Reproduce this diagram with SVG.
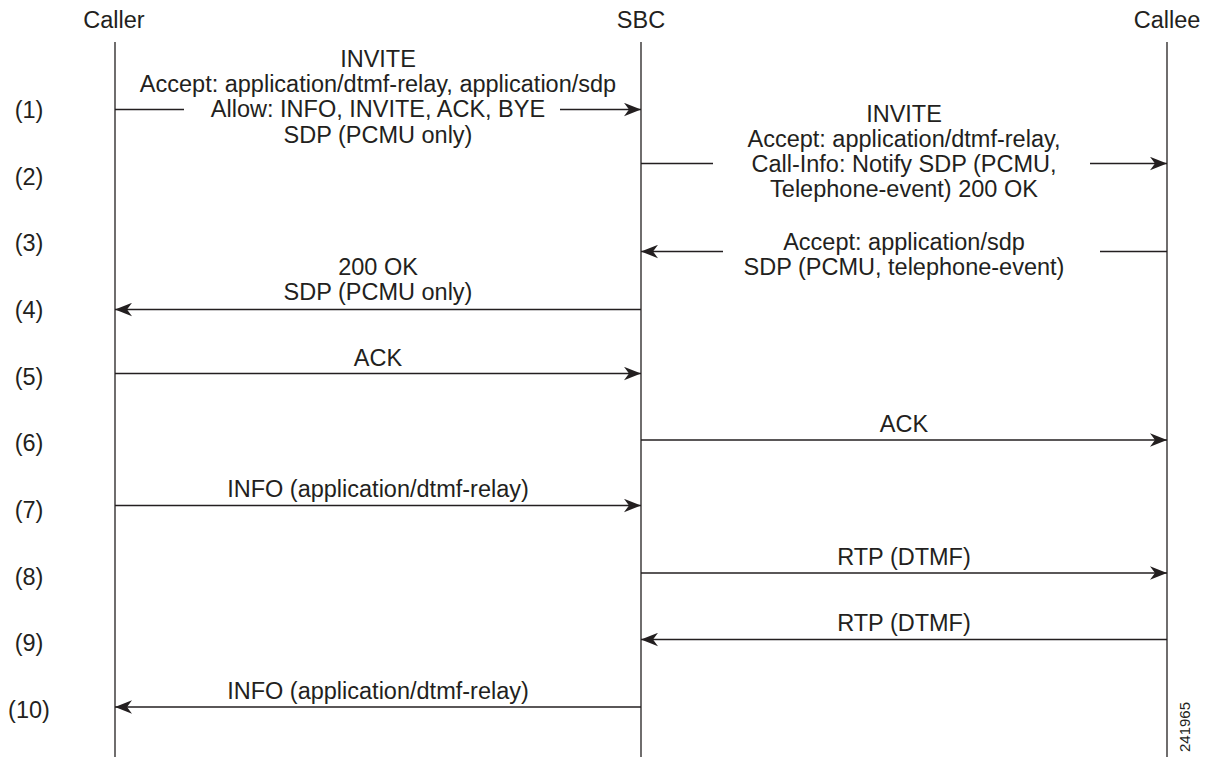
<svg xmlns="http://www.w3.org/2000/svg" width="1215" height="757" viewBox="0 0 1215 757">
<style>
text{font-family:"Liberation Sans",Arial,sans-serif;font-size:23.5px;fill:#231f20;text-anchor:middle}
.life{stroke:#231f20;stroke-width:1.3;fill:none}
.msg{stroke:#231f20;stroke-width:1.3;fill:none}
.fig{font-size:15px}
</style>
<defs>
<marker id="ah" markerUnits="userSpaceOnUse" viewBox="0 0 17 14" refX="17" refY="7" markerWidth="17" markerHeight="14" orient="auto">
<path d="M0,0.3 L17,7 L0,13.7 L5,7 Z" fill="#231f20"/>
</marker>
</defs>
<rect width="1215" height="757" fill="#fff"/>
<g id="caller">
<text x="114" y="28">Caller</text>
<line class="life" x1="115" y1="42" x2="115" y2="757"/>
</g>
<g id="sbc">
<text x="641" y="28">SBC</text>
<line class="life" x1="641" y1="42" x2="641" y2="757"/>
</g>
<g id="callee">
<text x="1167" y="28">Callee</text>
<line class="life" x1="1167" y1="42" x2="1167" y2="757"/>
</g>
<g id="steps">
<text x="29" y="118">(1)</text>
<text x="29" y="185">(2)</text>
<text x="29" y="251">(3)</text>
<text x="29" y="318">(4)</text>
<text x="29" y="385">(5)</text>
<text x="29" y="451">(6)</text>
<text x="29" y="518">(7)</text>
<text x="29" y="585">(8)</text>
<text x="29" y="651">(9)</text>
<text x="29" y="718">(10)</text>
</g>
<g id="connectors">
<path class="msg" d="M115,109.5 H184"/>
<path class="msg" d="M560,109.5 H641" marker-end="url(#ah)"/>
<path class="msg" d="M641,163.5 H713"/>
<path class="msg" d="M1090,163.5 H1167" marker-end="url(#ah)"/>
<path class="msg" d="M1167,251.5 H1100"/>
<path class="msg" d="M723,251.5 H641" marker-end="url(#ah)"/>
<path class="msg" d="M641,309.5 H115" marker-end="url(#ah)"/>
<path class="msg" d="M115,373.5 H641" marker-end="url(#ah)"/>
<path class="msg" d="M641,440 H1167" marker-end="url(#ah)"/>
<path class="msg" d="M115,505.5 H641" marker-end="url(#ah)"/>
<path class="msg" d="M641,573 H1167" marker-end="url(#ah)"/>
<path class="msg" d="M1167,639.5 H641" marker-end="url(#ah)"/>
<path class="msg" d="M641,707 H115" marker-end="url(#ah)"/>
</g>
<g id="labels">
<text x="378" y="67">INVITE</text>
<text x="378" y="92">Accept: application/dtmf-relay, application/sdp</text>
<text x="378" y="117">Allow: INFO, INVITE, ACK, BYE</text>
<text x="378" y="143">SDP (PCMU only)</text>
<text x="904" y="122">INVITE</text>
<text x="904" y="147">Accept: application/dtmf-relay,</text>
<text x="904" y="172">Call-Info: Notify SDP (PCMU,</text>
<text x="904" y="197">Telephone-event) 200 OK</text>
<text x="904" y="250">Accept: application/sdp</text>
<text x="904" y="275">SDP (PCMU, telephone-event)</text>
<text x="378" y="275">200 OK</text>
<text x="378" y="300">SDP (PCMU only)</text>
<text x="378" y="366">ACK</text>
<text x="904" y="432">ACK</text>
<text x="378" y="497">INFO (application/dtmf-relay)</text>
<text x="904" y="565">RTP (DTMF)</text>
<text x="904" y="631">RTP (DTMF)</text>
<text x="378" y="699">INFO (application/dtmf-relay)</text>
</g>
<text class="fig" transform="translate(1190,727) rotate(-90)">241965</text>
</svg>
